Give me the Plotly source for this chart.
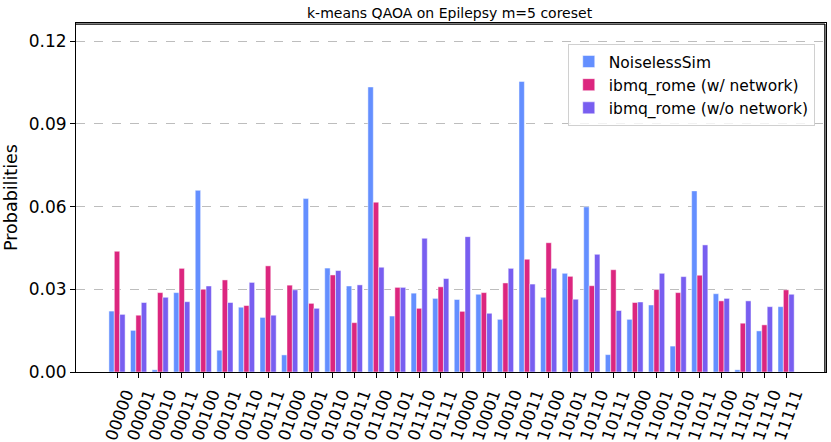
import plotly.graph_objects as go

states = ["00000","00001","00010","00011","00100","00101","00110","00111",
          "01000","01001","01010","01011","01100","01101","01110","01111",
          "10000","10001","10010","10011","10100","10101","10110","10111",
          "11000","11001","11010","11011","11100","11101","11110","11111"]

noiseless = [0.0221,0.0151,0.0008,0.0288,0.0659,0.0079,0.0235,0.0198,
             0.0062,0.0629,0.0377,0.0312,0.1034,0.0203,0.0286,0.0267,
             0.0263,0.0282,0.0191,0.1054,0.0271,0.0358,0.0599,0.0063,
             0.0191,0.0243,0.0094,0.0657,0.0284,0.0008,0.0149,0.0237]

rome_net = [0.0438,0.0206,0.0288,0.0376,0.0300,0.0334,0.0241,0.0385,
            0.0315,0.0249,0.0352,0.0179,0.0616,0.0307,0.0231,0.0309,
            0.0220,0.0288,0.0323,0.0409,0.0469,0.0347,0.0313,0.0371,
            0.0252,0.0299,0.0288,0.0351,0.0258,0.0177,0.0171,0.0298]

rome_nonet = [0.0209,0.0252,0.0271,0.0255,0.0312,0.0252,0.0325,0.0206,
              0.0298,0.0231,0.0368,0.0316,0.0380,0.0307,0.0485,0.0339,
              0.0491,0.0213,0.0376,0.0319,0.0376,0.0264,0.0427,0.0223,
              0.0254,0.0358,0.0346,0.0461,0.0267,0.0258,0.0237,0.0282]

series_names = ["NoiselessSim", "ibmq_rome (w/ network)", "ibmq_rome (w/o network)"]
colors = ["#648fff", "#dc267f", "#785ef0"]

xs = list(range(len(states)))
fig = go.Figure()
for name, vals, c in zip(series_names, [noiseless, rome_net, rome_nonet], colors):
    fig.add_trace(go.Bar(x=xs, y=vals, name=name, marker_color=c,
                         marker_line=dict(width=0.6, color="rgba(255,255,255,0.8)")))

fig.update_layout(
    width=831, height=442,
    margin=dict(l=76, r=5, t=23, b=70, autoexpand=False),
    plot_bgcolor="white", paper_bgcolor="white",
    barmode="group", bargap=0.25, bargroupgap=0,
    font=dict(family="DejaVu Sans", color="black"),
    title=dict(text="k-means QAOA on Epilepsy m=5 coreset", x=0.541, xanchor="center",
               yref="container", y=1 - 13 / 442, yanchor="middle", font=dict(size=14)),
    legend=dict(x=0.985, y=0.94, xanchor="right", yanchor="top",
                bordercolor="#d0d0d0", borderwidth=1, bgcolor="rgba(255,255,255,0.8)",
                font=dict(size=15.5), itemwidth=30, tracegroupgap=0),
    showlegend=True,
)
# frame on top and right, slightly inset so it stays inside the plot area
fig.add_shape(type="line", xref="paper", yref="paper", x0=0, y0=0.997, x1=0.9985, y1=0.997,
              line=dict(color="black", width=1.3), layer="above")
fig.add_shape(type="line", xref="paper", yref="paper", x0=0.9985, y0=0, x1=0.9985, y1=0.997,
              line=dict(color="black", width=1.3), layer="above")
fig.update_xaxes(
    tickmode="array", tickvals=xs, ticktext=states, tickangle=-70, automargin=False,
    range=[-1.9, 32.85], showline=True, linecolor="black", linewidth=1, mirror=True,
    ticks="outside", ticklen=5, tickcolor="black", showgrid=False, zeroline=False,
    tickfont=dict(size=16.5, family="DejaVu Sans"), ticklabelshift=9,
)
fig.update_yaxes(
    range=[0, 0.1266], tickvals=[0, 0.03, 0.06, 0.09, 0.12], automargin=False,
    ticktext=["0.00", "0.03", "0.06", "0.09", "0.12"],
    showline=True, linecolor="black", linewidth=1, mirror=True,
    ticks="outside", ticklen=5, tickcolor="black",
    showgrid=True, gridcolor="#bdbdbd", griddash="dash", gridwidth=1, zeroline=False,
    tickfont=dict(size=17),
    title=dict(text="Probabilities", font=dict(size=17.5), standoff=6),
)
fig.write_html("out.html", config={"displayModeBar": False},
               post_script="document.body.style.margin='0px';")
